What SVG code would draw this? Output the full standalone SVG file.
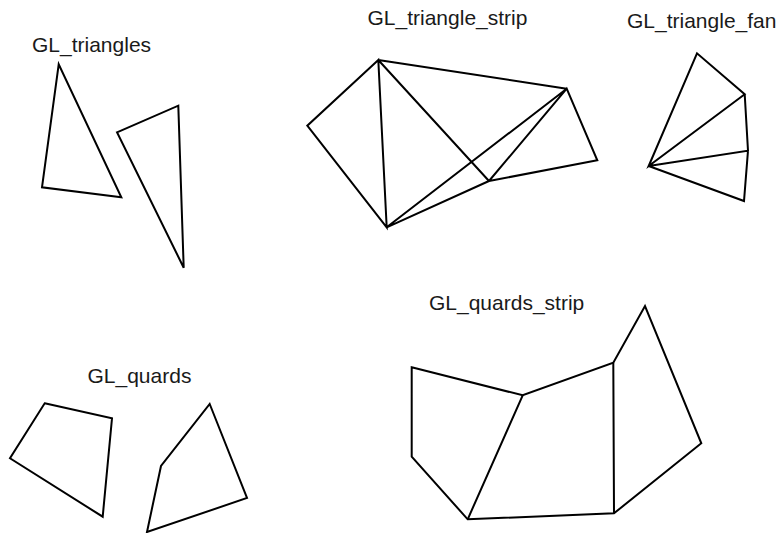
<svg xmlns="http://www.w3.org/2000/svg" width="779" height="533" viewBox="0 0 779 533">
<style>
.s{fill:none;stroke:#000;stroke-width:2;stroke-linejoin:miter}
.t{font-family:"Liberation Sans",Arial,sans-serif;font-size:21px;fill:#1a1a1a}
</style>
<rect width="779" height="533" fill="#fff"/>
<g id="triangles">
<text class="t" x="32" y="51.5">GL_triangles</text>
<polygon class="s" points="58.7,64.3 42,187.3 121.3,197.3"/>
<polygon class="s" points="117,132.3 178.3,105.7 183.7,267.7"/>
</g>
<g id="triangle_strip">
<text class="t" x="367.5" y="25">GL_triangle_strip</text>
<path class="s" d="M378.3,60 L307.3,125.7 L386.7,227.3 Z M378.3,60 L566.7,88.7 M378.3,60 L489,181 M386.7,227.3 L489,181 M386.7,227.3 L566.7,88.7 M489,181 L566.7,88.7 L597.3,160.3 L489,181"/>
</g>
<g id="triangle_fan">
<text class="t" x="627" y="27.5">GL_triangle_fan</text>
<path class="s" d="M648.7,166 L697,53.3 L744.7,94.3 Z M744.7,94.3 L748,150.7 L648.7,166 M748,150.7 L744,201 L648.7,166"/>
</g>
<g id="quads">
<text class="t" x="87.5" y="382.5">GL_quards</text>
<polygon class="s" points="44.7,403.3 112,418.3 102.7,516.7 10,458.3"/>
<polygon class="s" points="209.7,404 247,498 147,532 161,466"/>
</g>
<g id="quad_strip">
<text class="t" x="429" y="309.5">GL_quards_strip</text>
<polygon class="s" points="411.7,367.3 522.7,395.3 613.3,362.7 645,306 701.3,443.3 614,513.3 467.7,519.3 411.7,456.7"/>
<path class="s" d="M522.7,395.3 L467.7,519.3 M613.3,362.7 L614,513.3"/>
</g>
</svg>
